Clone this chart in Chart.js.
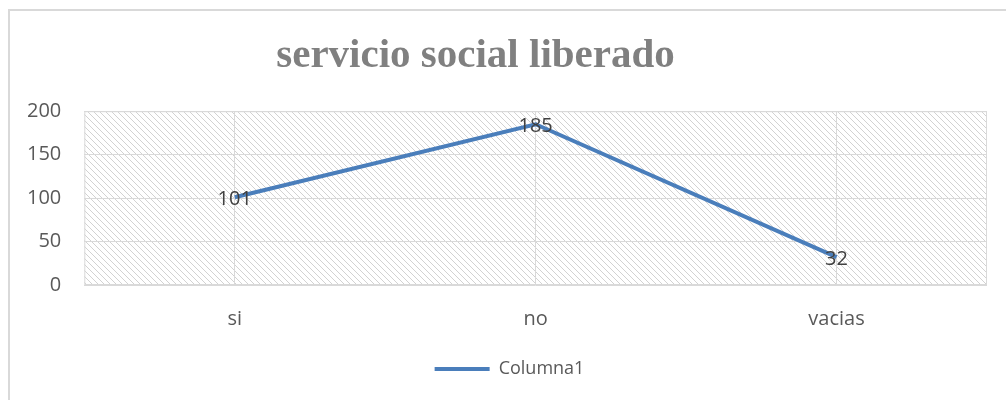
<!DOCTYPE html>
<html>
<head>
<meta charset="utf-8">
<script src="https://cdn.jsdelivr.net/npm/chart.js@4"></script>
<style>
  body { margin: 0; background: #fff; }
  #wrap { width: 1006px; height: 400px; position: relative; }
</style>
</head>
<body>
<div id="wrap"><canvas id="chart"></canvas></div>
<script>
const categories = ["si", "no", "vacias"];
const values = [101, 185, 32];
const yTicks = [0, 50, 100, 150, 200];
const seriesName = "Columna1";
const titleText = "servicio social liberado";

// diagonal hatch tile for the plot area
function hatchPattern(ctx) {
    const tile = document.createElement("canvas");
    tile.width = 6;
    tile.height = 6;
    const t = tile.getContext("2d");
    t.fillStyle = "#ffffff";
    t.fillRect(0, 0, 6, 6);
    t.fillStyle = "#d2d2d2";
    for (let i = 0; i < 6; i++) {
        t.fillRect(i, i, 1, 1);
    }
    return ctx.createPattern(tile, "repeat");
}

const plotBackground = {
    id: "plotBackground",
    afterLayout(chart) {
        // Excel places the title a bit left of centre, the legend a bit right
        const t = chart.titleBlock;
        t.left -= 20;
        t.right -= 20;
        const lg = chart.legend;
        lg.left += 14;
        lg.right += 14;
    },
    beforeDraw(chart) {
        const { ctx, chartArea: a } = chart;
        ctx.save();
        // outer frame
        ctx.strokeStyle = "#d9d9d9";
        ctx.lineWidth = 2;
        ctx.strokeRect(9, 10, 1100, 500);
        ctx.fillStyle = hatchPattern(ctx);
        ctx.fillRect(a.left, a.top, a.right - a.left, a.bottom - a.top);
        ctx.restore();
    },
    afterDatasetsDraw(chart) {
        const { ctx, chartArea: a } = chart;
        ctx.save();
        ctx.strokeStyle = "#d9d9d9";
        ctx.lineWidth = 1;
        ctx.strokeRect(a.left + 0.5, a.top + 0.5, a.right - a.left - 1, a.bottom - a.top - 1);
        // data labels centred on the points
        const meta = chart.getDatasetMeta(0);
        ctx.font = "20px 'Open Sans', sans-serif";
        ctx.fillStyle = "#404040";
        ctx.textAlign = "center";
        ctx.textBaseline = "middle";
        meta.data.forEach((pt, i) => {
            ctx.fillText(String(values[i]), pt.x, pt.y + 2);
        });
        ctx.restore();
    }
};

const ctx = document.getElementById("chart").getContext("2d");
new Chart(ctx, {
    type: "line",
    data: {
        labels: categories,
        datasets: [{
            label: seriesName,
            data: values,
            borderColor: "#4a7ebb",
            backgroundColor: "#4a7ebb",
            borderWidth: 4,
            pointRadius: 0,
            tension: 0
        }]
    },
    options: {
        responsive: true,
        maintainAspectRatio: false,
        animation: false,
        layout: { padding: { left: 4, right: 19, top: 30, bottom: 12 } },
        scales: {
            x: {
                offset: true,
                grid: { offset: false, color: "#d9d9d9", drawTicks: false },
                border: { display: false },
                ticks: { color: "#595959", font: { size: 20, family: "'Open Sans', sans-serif" }, padding: 22 },
                afterFit(scale) { scale.height = 53; }
            },
            y: {
                min: 0,
                max: 200,
                afterBuildTicks(scale) { scale.ticks = yTicks.map(v => ({ value: v })); },
                grid: { color: "#d9d9d9", drawTicks: false },
                border: { display: false },
                ticks: { color: "#595959", font: { size: 20, family: "'Open Sans', sans-serif" }, padding: 23 }
            }
        },
        plugins: {
            title: {
                display: true,
                text: titleText,
                color: "#808080",
                font: { size: 41, weight: "bold", family: "'Liberation Serif', 'DejaVu Serif', serif" },
                padding: { top: 2, bottom: 30 }
            },
            legend: {
                position: "bottom",
                labels: {
                    color: "#595959",
                    font: { size: 18, family: "'Open Sans', sans-serif" },
                    boxWidth: 55,
                    boxHeight: 4,
                    padding: 22,
                    generateLabels(chart) {
                        return [{
                            text: seriesName,
                            fillStyle: "#4a7ebb",
                            strokeStyle: "#4a7ebb",
                            lineWidth: 0,
                            fontColor: "#595959"
                        }];
                    }
                }
            },
            tooltip: { enabled: false }
        }
    },
    plugins: [plotBackground]
});
</script>
</body>
</html>
